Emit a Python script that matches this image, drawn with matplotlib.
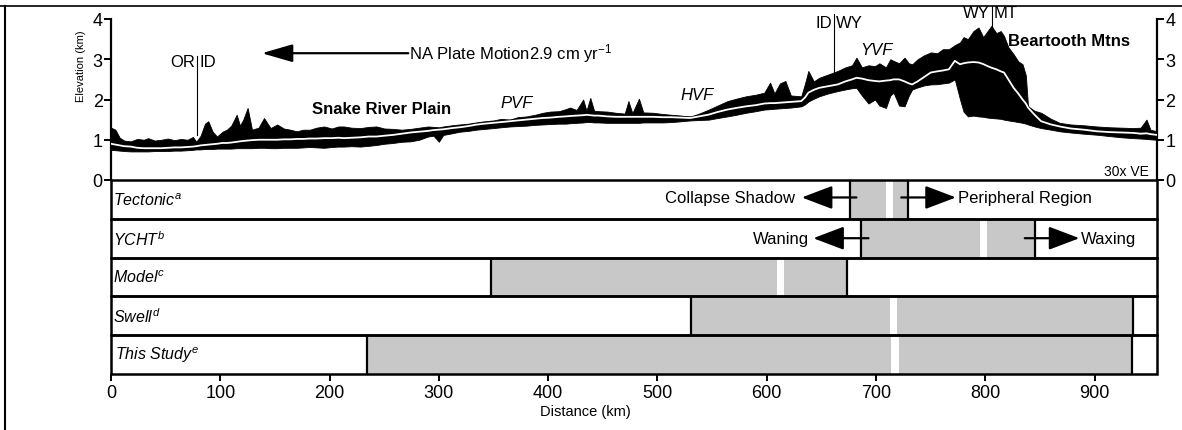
import matplotlib
matplotlib.use('Agg')
import matplotlib.pyplot as plt
import matplotlib.patheffects as pe
from matplotlib.patches import Rectangle
from matplotlib.lines import Line2D

plt.rcParams['font.family'] = ['Liberation Sans', 'DejaVu Sans']
plt.rcParams['mathtext.fontset'] = 'custom'
plt.rcParams['mathtext.rm'] = 'Liberation Sans'
plt.rcParams['mathtext.it'] = 'Liberation Sans:italic'
plt.rcParams['mathtext.bf'] = 'Liberation Sans:bold'

# ---------------- data ----------------
distance_km = [0, 4, 8, 12, 18, 24, 30, 34, 40, 46, 52, 58, 64, 70, 75, 78, 82, 86, 89, 93,
               97, 102, 106, 110, 115, 118, 121, 125, 129, 135, 140, 146, 152, 158, 164, 170,
               176, 182, 188, 195, 202, 208, 213, 220, 228, 236, 243, 250, 258, 266, 274, 282,
               290, 295, 300, 304, 312, 319, 327, 334, 342, 350, 357, 365, 372, 380, 388, 395,
               402, 410, 416, 420, 426, 432, 435, 438.5, 442, 446, 454, 462, 470, 473.4, 477,
               483, 487, 496, 505, 513, 522, 530, 538, 547, 555, 564, 572, 581, 590, 597.7,
               603, 607, 612, 617, 622, 631.5, 635, 638, 643, 648, 656, 665, 672, 678, 682,
               687, 693, 699, 703, 709, 713, 716, 721, 726, 730, 733, 738, 744, 750, 756, 761,
               766.6, 772, 776.8, 780, 784, 789, 793.7, 798, 802, 805.5, 810, 814, 817, 821,
               825.8, 830, 834, 837, 839, 845, 851, 860, 868, 878, 890, 902, 914, 925, 935.5,
               942, 947.4, 951, 957]
elev_max = [1.30, 1.25, 1.05, 0.98, 0.96, 1.02, 1.00, 1.04, 0.98, 1.00, 1.03, 0.99, 1.02, 1.00,
            1.07, 0.95, 1.10, 1.40, 1.46, 1.20, 1.08, 1.20, 1.25, 1.35, 1.62, 1.35, 1.50, 1.79,
            1.25, 1.30, 1.54, 1.29, 1.38, 1.28, 1.25, 1.21, 1.25, 1.25, 1.30, 1.33, 1.28, 1.33,
            1.33, 1.30, 1.29, 1.32, 1.33, 1.28, 1.27, 1.25, 1.27, 1.30, 1.33, 1.32, 1.31, 1.33,
            1.36, 1.38, 1.40, 1.43, 1.46, 1.48, 1.52, 1.50, 1.56, 1.58, 1.62, 1.67, 1.70, 1.71,
            1.76, 1.80, 1.74, 2.00, 1.72, 2.04, 1.72, 1.71, 1.70, 1.67, 1.65, 1.96, 1.66, 2.02,
            1.68, 1.67, 1.64, 1.62, 1.60, 1.57, 1.65, 1.75, 1.85, 1.96, 2.02, 2.08, 2.12, 2.17,
            2.42, 2.15, 2.40, 2.46, 2.10, 2.08, 2.40, 2.71, 2.45, 2.54, 2.62, 2.71, 2.80, 2.85,
            3.04, 2.80, 2.85, 2.83, 2.90, 2.80, 3.00, 2.96, 2.90, 3.04, 2.90, 2.875, 3.00, 3.10,
            3.17, 3.15, 3.25, 3.25, 3.35, 3.42, 3.55, 3.50, 3.70, 3.79, 3.55, 3.70, 3.83, 3.65,
            3.70, 3.58, 3.30, 3.125, 2.95, 2.875, 2.60, 1.83, 1.72, 1.67, 1.52, 1.42, 1.38,
            1.36, 1.33, 1.31, 1.30, 1.29, 1.30, 1.50, 1.25, 1.21]
elev_mean = [0.90, 0.88, 0.86, 0.84, 0.83, 0.80, 0.79, 0.79, 0.79, 0.79, 0.80, 0.81, 0.81, 0.82,
             0.83, 0.84, 0.86, 0.87, 0.88, 0.89, 0.90, 0.92, 0.92, 0.93, 0.95, 0.96, 0.97, 0.98,
             0.99, 1.00, 1.00, 1.00, 1.00, 1.01, 1.01, 1.02, 1.02, 1.03, 1.03, 1.04, 1.04, 1.05,
             1.04, 1.05, 1.06, 1.08, 1.08, 1.10, 1.12, 1.15, 1.18, 1.20, 1.22, 1.24, 1.25, 1.26,
             1.29, 1.31, 1.34, 1.375, 1.40, 1.42, 1.44, 1.46, 1.48, 1.50, 1.52, 1.54, 1.55, 1.57,
             1.58, 1.59, 1.60, 1.61, 1.62, 1.61, 1.60, 1.60, 1.58, 1.57, 1.57, 1.57, 1.57, 1.57,
             1.57, 1.57, 1.56, 1.56, 1.55, 1.54, 1.58, 1.625, 1.69, 1.75, 1.79, 1.83, 1.86, 1.90,
             1.91, 1.91, 1.92, 1.93, 1.94, 1.96, 2.05, 2.17, 2.24, 2.29, 2.33, 2.375, 2.45, 2.50,
             2.54, 2.52, 2.48, 2.46, 2.45, 2.47, 2.48, 2.50, 2.50, 2.45, 2.40, 2.375, 2.45, 2.56,
             2.67, 2.70, 2.72, 2.75, 2.96, 2.875, 2.90, 2.92, 2.93, 2.92, 2.88, 2.83, 2.79, 2.75,
             2.70, 2.67, 2.50, 2.29, 2.15, 2.00, 1.90, 1.80, 1.62, 1.46, 1.38, 1.33, 1.28, 1.25,
             1.21, 1.19, 1.18, 1.17, 1.15, 1.16, 1.14, 1.12]
elev_min = [0.75, 0.74, 0.73, 0.72, 0.71, 0.71, 0.71, 0.71, 0.72, 0.72, 0.72, 0.73, 0.73, 0.74,
            0.75, 0.76, 0.76, 0.77, 0.77, 0.77, 0.78, 0.78, 0.78, 0.78, 0.79, 0.79, 0.79, 0.79,
            0.79, 0.80, 0.80, 0.79, 0.79, 0.80, 0.80, 0.80, 0.81, 0.82, 0.81, 0.80, 0.82, 0.83,
            0.83, 0.84, 0.83, 0.85, 0.87, 0.90, 0.92, 0.95, 0.96, 1.00, 1.08, 1.10, 0.95, 1.12,
            1.16, 1.20, 1.22, 1.25, 1.27, 1.29, 1.31, 1.33, 1.34, 1.35, 1.37, 1.38, 1.39, 1.40,
            1.40, 1.41, 1.42, 1.43, 1.44, 1.44, 1.43, 1.43, 1.42, 1.42, 1.42, 1.42, 1.42, 1.42,
            1.43, 1.43, 1.43, 1.44, 1.46, 1.48, 1.49, 1.50, 1.54, 1.58, 1.62, 1.67, 1.71, 1.75,
            1.76, 1.77, 1.78, 1.79, 1.80, 1.83, 1.88, 1.95, 2.02, 2.08, 2.15, 2.21, 2.25, 2.28,
            2.29, 2.10, 1.90, 2.00, 1.85, 1.79, 2.10, 2.17, 1.85, 1.83, 2.10, 2.25, 2.30, 2.35,
            2.375, 2.38, 2.40, 2.42, 2.50, 2.00, 1.70, 1.58, 1.60, 1.58, 1.57, 1.55, 1.54, 1.53,
            1.52, 1.50, 1.48, 1.46, 1.44, 1.42, 1.40, 1.38, 1.33, 1.29, 1.25, 1.21, 1.18, 1.15,
            1.125, 1.09, 1.06, 1.04, 1.03, 1.02, 1.01, 1.00]

row_labels = ['Tectonic', 'YCHT', 'Model', 'Swell', 'This Study']
row_notes = ['a', 'b', 'c', 'd', 'e']
zone_start = [676, 686, 348, 530.6, 234]
zone_end = [729, 845.5, 673, 935, 934]
zone_stripe = [712, 798, 612, 716, 717]

x_ticks = [0, 100, 200, 300, 400, 500, 600, 700, 800, 900]
y_ticks = [0, 1, 2, 3, 4]
x_max = 957
GRAY = '#c8c8c8'

# ---------------- figure ----------------
W, H = 1182, 431
fig = plt.figure(figsize=(W / 100, H / 100), dpi=100)

def px_box(x0, y0, x1, y1):
    return [x0 / W, 1 - y1 / H, (x1 - x0) / W, (y1 - y0) / H]

ax = fig.add_axes(px_box(111, 20, 1157, 181))
axb = fig.add_axes(px_box(111, 181, 1157, 375))

# ---- profile ----
ax.fill_between(distance_km, elev_min, elev_max, color='black', lw=0.6, zorder=2)
ax.plot(distance_km, elev_mean, color='white', lw=1.3, zorder=3,
        path_effects=[pe.Stroke(linewidth=2.3, foreground='black'), pe.Normal()])
ax.set_xlim(0, x_max)
ax.set_ylim(0, 4)
ax.set_yticks(y_ticks)
ax.set_xticks([])
for s in ['top', 'bottom']:
    ax.spines[s].set_visible(False)
for s in ['left', 'right']:
    ax.spines[s].set_linewidth(1.6)
ax.tick_params(axis='y', which='both', left=True, right=True, labelleft=True,
               labelright=True, direction='out', length=5, width=1.4, labelsize=13, pad=1)
ax.set_ylabel('Elevation (km)', fontsize=8)
ax.yaxis.set_label_coords((86 - 111) / 1046, 0.714)

def border_label(x, y_text, y_top, y_bot, left, right):
    ax.plot([x, x], [y_bot, y_top], color='black', lw=0.8, zorder=4, clip_on=False)
    ax.annotate(left, (x, y_text), xytext=(-1.5, 0), textcoords='offset points',
                ha='right', va='baseline', fontsize=12, annotation_clip=False)
    ax.annotate(right, (x, y_text), xytext=(1.5, 0), textcoords='offset points',
                ha='left', va='baseline', fontsize=12, annotation_clip=False)

border_label(79, 2.83, 3.08, 1.12, 'OR', 'ID')
border_label(661.5, 3.8, 4.12, 2.62, 'ID', 'WY')
border_label(805.7, 4.05, 4.33, 3.72, 'WY', 'MT')

ax.annotate('', xy=(138, 3.15), xytext=(272, 3.15),
            arrowprops=dict(arrowstyle='-|>,head_length=1.9,head_width=0.55',
                            mutation_scale=10, lw=1.6, color='black',
                            shrinkA=0, shrinkB=0))
ax.text(273, 3.17, r'NA Plate Motion2.9 cm yr$^{\mathrm{-1}}$', fontsize=12,
        ha='left', va='center')
ax.text(247.6, 1.78, 'Snake River Plain', fontsize=12, fontweight='bold',
        ha='center', va='center')
ax.text(371.5, 1.92, 'PVF', fontsize=12, style='italic', ha='center', va='center')
ax.text(536, 2.12, 'HVF', fontsize=12, style='italic', ha='center', va='center')
ax.text(700, 3.25, 'YVF', fontsize=12, style='italic', ha='center', va='center')
ax.text(820.7, 3.46, 'Beartooth Mtns', fontsize=12, fontweight='bold',
        ha='left', va='center')
ax.text(949.7, 0.225, '30x VE', fontsize=10, ha='right', va='center')

# ---- model rows ----
axb.set_xlim(0, x_max)
axb.set_ylim(len(row_labels), 0)
for s in axb.spines.values():
    s.set_visible(False)
axb.set_yticks([])
axb.set_xticks(x_ticks)
axb.tick_params(axis='x', direction='out', length=5, width=1.4, labelsize=13, pad=2)

for i, lab in enumerate(row_labels):
    axb.add_patch(Rectangle((0, i), x_max, 1, facecolor='white', edgecolor='none', zorder=1))
    axb.add_patch(Rectangle((zone_start[i], i), zone_end[i] - zone_start[i], 1,
                            facecolor=GRAY, edgecolor='none', zorder=2))
    axb.add_patch(Rectangle((zone_stripe[i] - 3, i), 6.5, 1, facecolor='white',
                            edgecolor='none', zorder=3))
    for xv in (zone_start[i], zone_end[i]):
        axb.plot([xv, xv], [i, i + 1], color='black', lw=1.6, zorder=4,
                 solid_capstyle='butt')
    axb.add_patch(Rectangle((0, i), x_max, 1, facecolor='none', edgecolor='black',
                            lw=1.8, zorder=5, clip_on=False))
    pad = 4 if lab == 'This Study' else 2
    axb.text(pad, i + 0.5, r'$\mathit{' + lab.replace(' ', r'\ ') + '}^{' + row_notes[i] + '}$',
             fontsize=11.5, ha='left', va='center', zorder=6)

def bar_arrow(y, x_from, x_to):
    axb.annotate('', xy=(x_to, y), xytext=(x_from, y),
                 arrowprops=dict(arrowstyle='-|>,head_length=1.9,head_width=0.72',
                                 mutation_scale=10, lw=1.6, color='black',
                                 shrinkA=0, shrinkB=0), zorder=6)

bar_arrow(0.45, 682, 632)
bar_arrow(0.45, 723, 773)
axb.text(626, 0.45, 'Collapse Shadow', fontsize=12, ha='right', va='center', zorder=6)
axb.text(775, 0.45, 'Peripheral Region', fontsize=12, ha='left', va='center', zorder=6)
bar_arrow(1.5, 693, 642.5)
bar_arrow(1.5, 836, 886)
axb.text(639, 1.5, 'Waning', fontsize=12, ha='right', va='center', zorder=6)
axb.text(887, 1.5, 'Waxing', fontsize=12, ha='left', va='center', zorder=6)

fig.text(585 / W, 1 - 412 / H, 'Distance (km)', fontsize=10.5, ha='center', va='center')

# outer frame
fig.add_artist(Line2D([0, 1], [1 - 6.5 / H, 1 - 6.5 / H], color='black', lw=1.2))
fig.add_artist(Line2D([5 / W, 5 / W], [0, 1 - 6.5 / H], color='black', lw=1.5))

fig.savefig('out.png', dpi=100)
